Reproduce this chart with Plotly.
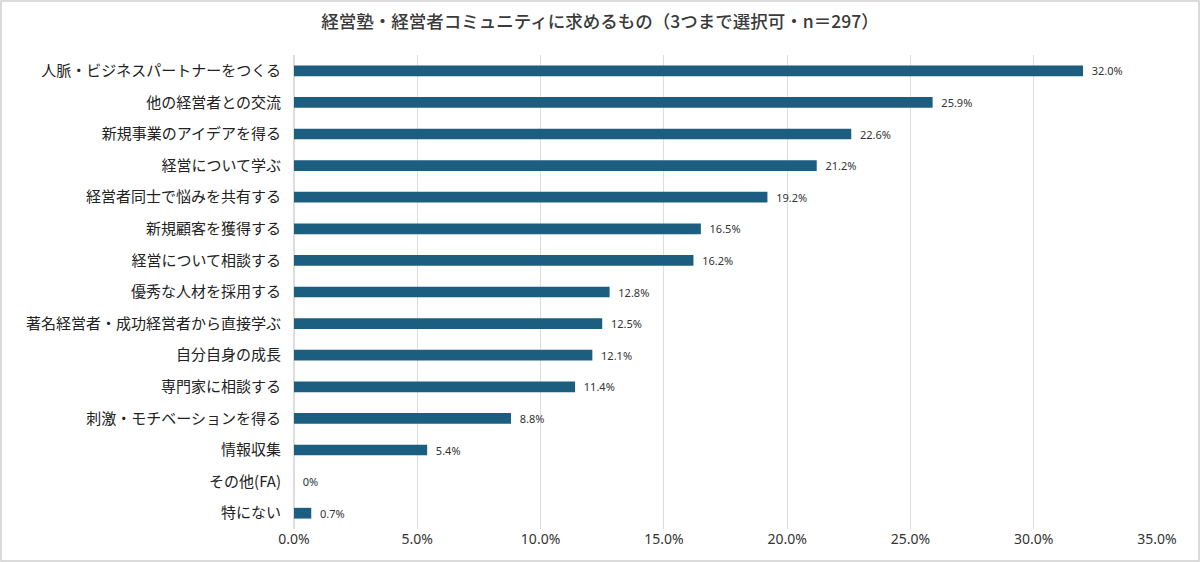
import plotly.graph_objects as go

categories = [
    "人脈・ビジネスパートナーをつくる",
    "他の経営者との交流",
    "新規事業のアイデアを得る",
    "経営について学ぶ",
    "経営者同士で悩みを共有する",
    "新規顧客を獲得する",
    "経営について相談する",
    "優秀な人材を採用する",
    "著名経営者・成功経営者から直接学ぶ",
    "自分自身の成長",
    "専門家に相談する",
    "刺激・モチベーションを得る",
    "情報収集",
    "その他(FA)",
    "特にない",
]
values = [32.0, 25.9, 22.6, 21.2, 19.2, 16.5, 16.2, 12.8, 12.5, 12.1, 11.4, 8.8, 5.4, 0.0, 0.7]
value_labels = ["%.1f%%" % v if v > 0 else "0%" for v in values]
x_ticks = [0, 5, 10, 15, 20, 25, 30, 35]
x_tick_labels = ["%.1f%%" % t for t in x_ticks]

title = "経営塾・経営者コミュニティに求めるもの（3つまで選択可・n＝297）"

font_jp = "Noto Sans CJK JP, Noto Sans, sans-serif"

fig = go.Figure()
fig.add_trace(go.Bar(
    x=values,
    y=categories,
    orientation="h",
    width=0.34,
    marker=dict(color="#1b5e80", line=dict(width=0)),
    # nbsp padding so the labels sit a bit further from the bar ends
    text=["\u00a0\u00a0" + s for s in value_labels],
    textposition="outside",
    constraintext="none",
    textfont=dict(size=11, color="#333333", family="Noto Sans, sans-serif"),
    cliponaxis=False,
    hoverinfo="x+y",
))

L, R, T, B = 294, 43, 55, 33
pw, ph = 1200 - L - R, 562 - T - B

fig.update_layout(
    width=1200,
    height=562,
    margin=dict(l=L, r=R, t=T, b=B),
    paper_bgcolor="white",
    plot_bgcolor="white",
    font=dict(family=font_jp, color="#333333"),
    title=dict(
        text=title,
        x=0.5,
        xref="container",
        y=1 - 22 / 562,
        yanchor="middle",
        xanchor="center",
        font=dict(size=17.5, color="#3a3a3a", family=font_jp, weight=500),
    ),
    showlegend=False,
    xaxis=dict(
        range=[0, 35],
        tickvals=x_ticks,
        ticktext=x_tick_labels,
        showgrid=True,
        gridcolor="#dddddd",
        gridwidth=1,
        zeroline=True,
        zerolinecolor="#dddddd",
        showline=False,
        tickfont=dict(size=14, color="#333333", family="Noto Sans, sans-serif"),
        ticks="",
        fixedrange=True,
    ),
    yaxis=dict(
        autorange="reversed",
        tickfont=dict(size=15, color="#222222", family=font_jp),
        ticks="",
        ticklabelstandoff=12,
        showgrid=False,
        fixedrange=True,
    ),
    shapes=[dict(
        type="rect",
        xref="paper",
        yref="paper",
        x0=-(L - 1) / pw,
        x1=1 + (R - 1) / pw,
        y0=-(B - 1) / ph,
        y1=1 + (T - 1) / ph,
        line=dict(color="#d0d0d0", width=1.5),
        layer="below",
    )],
)

# page default margin shifts the figure by 8px, drop it
fig.write_html("out.html", config={"displayModeBar": False},
               post_script="document.body.style.margin='0';")
